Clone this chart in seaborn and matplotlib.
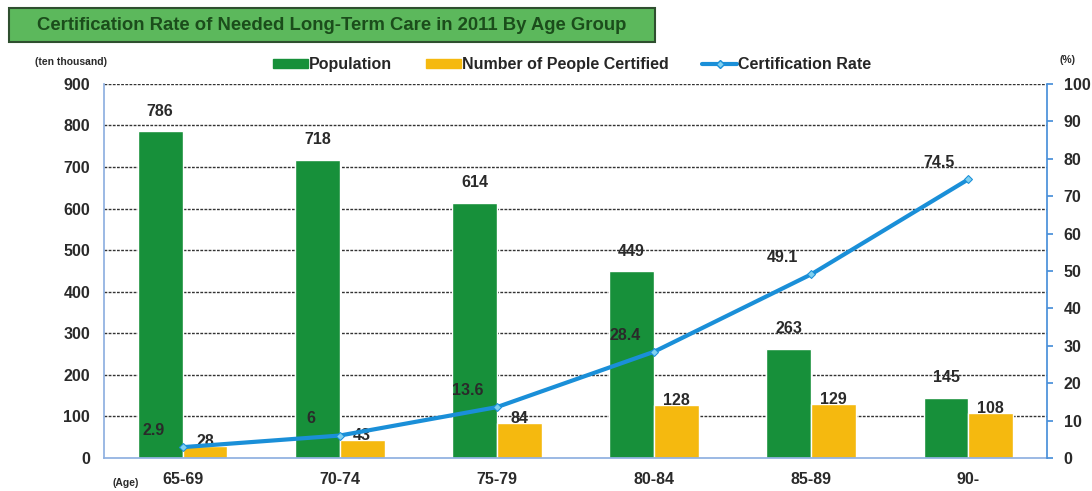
import numpy as np
import pandas as pd
import matplotlib
matplotlib.use("Agg")
import matplotlib.pyplot as plt
from matplotlib.patches import Patch, Rectangle
from matplotlib.lines import Line2D
import seaborn as sns

age_groups = ["65-69", "70-74", "75-79", "80-84", "85-89", "90-"]
population = [786, 718, 614, 449, 263, 145]
certified = [28, 43, 84, 128, 129, 108]
cert_rate = [2.9, 6, 13.6, 28.4, 49.1, 74.5]
rate_labels = ["2.9", "6", "13.6", "28.4", "49.1", "74.5"]

left_ticks = list(range(0, 1000, 100))
right_ticks = list(range(0, 110, 10))

GREEN = "#17903a"
YELLOW = "#f5b90f"
BLUE = "#1a8fd8"
TXT = "#2a2a2a"

sns.set_theme(style="white")
plt.rcParams["font.family"] = ["Liberation Sans", "DejaVu Sans"]
plt.rcParams["font.weight"] = "bold"

df = pd.DataFrame({
    "Age": age_groups * 2,
    "Series": ["Population"] * 6 + ["Number of People Certified"] * 6,
    "Value": population + certified,
})

XL = (-0.5, 5.5)

fig = plt.figure(figsize=(10.92, 4.91), dpi=100)
ax = fig.add_axes([0.0952, 0.0672, 0.8636, 0.762])

sns.barplot(data=df, x="Age", y="Value", hue="Series", order=age_groups,
            hue_order=["Population", "Number of People Certified"],
            palette=[GREEN, YELLOW], width=0.57, saturation=1, ax=ax,
            legend=False, errorbar=None)

ax.set_ylim(0, 900)
ax.set_xlim(*XL)
ax.set_yticks(left_ticks)
ax.set_yticklabels([str(t) for t in left_ticks], fontsize=11.5, fontweight="bold", color=TXT)
ax.set_xlabel("")
ax.set_ylabel("")
ax.set_xticks(range(len(age_groups)))
ax.set_xticklabels(age_groups, fontsize=11.5, fontweight="bold", color=TXT)
ax.tick_params(axis="x", which="major", length=0, pad=10)
ax.set_xticks(np.arange(0.5, 5.0, 1.0), minor=True)
ax.tick_params(axis="x", which="minor", length=4, color="#555555", direction="out")
ax.tick_params(axis="y", length=0, pad=10)

for y in left_ticks[1:]:
    ax.axhline(y, color="#333333", lw=1.0, ls=(0, (2, 1)), zorder=0)

ax.spines["top"].set_visible(False)
ax.spines["left"].set_color("#8fb0e0")
ax.spines["bottom"].set_color("#8fb0e0")
ax.spines["right"].set_visible(False)

conts = ax.containers
ax.bar_label(conts[0], labels=[str(v) for v in population], padding=9,
             fontsize=11.5, fontweight="bold", color=TXT)
ax.bar_label(conts[1], labels=[str(v) for v in certified], padding=-2,
             fontsize=11.5, fontweight="bold", color=TXT)

ax2 = ax.twinx()
rate_df = pd.DataFrame({"Age": age_groups, "Rate": cert_rate})
sns.lineplot(data=rate_df, x="Age", y="Rate", ax=ax2, color=BLUE, lw=3,
             marker="D", markersize=4, markerfacecolor="#7fd0f0",
             markeredgecolor=BLUE, sort=False)
ax2.set_ylim(0, 100)
ax2.set_yticks(right_ticks)
ax2.set_yticklabels([str(t) for t in right_ticks], fontsize=11.5, fontweight="bold", color=TXT)
ax2.set_ylabel("")
ax2.set_xlabel("")
ax2.tick_params(axis="y", length=4, color="#4a90d9", direction="out", pad=8)
ax2.spines["right"].set_color("#4a90d9")
ax2.spines["left"].set_visible(False)
ax2.spines["top"].set_visible(False)
ax2.spines["bottom"].set_visible(False)
ax2.set_xlim(*XL)

for i, (r, lab) in enumerate(zip(cert_rate, rate_labels)):
    ax2.annotate(lab, (i, r), xytext=(-21, 12), textcoords="offset points",
                 ha="center", va="center", fontsize=11.5, fontweight="bold", color=TXT)

fig.patches.append(Rectangle((0.008, 0.915), 0.592, 0.068, transform=fig.transFigure,
                             facecolor="#5cb85c", edgecolor="#2f4f2f", lw=1.5))
fig.text(0.304, 0.949, "Certification Rate of Needed Long-Term Care in 2011 By Age Group",
         ha="center", va="center", fontsize=13.3, fontweight="bold", color="#1b4d1b")

fig.text(0.032, 0.873, "(ten thousand)", fontsize=7.5, fontweight="bold", color=TXT,
         ha="left", va="center")
fig.text(0.978, 0.878, "(%)", fontsize=7.5, fontweight="bold", color=TXT,
         ha="center", va="center")
fig.text(0.115, 0.017, "(Age)", fontsize=7.5, fontweight="bold", color=TXT,
         ha="center", va="center")

handles = [
    Patch(facecolor=GREEN, edgecolor=GREEN),
    Patch(facecolor=YELLOW, edgecolor=YELLOW),
    Line2D([0], [0], color=BLUE, lw=3, marker="D", markersize=4,
           markerfacecolor="#7fd0f0", markeredgecolor=BLUE),
]
fig.legend(handles, ["Population", "Number of People Certified", "Certification Rate"],
           loc="center", bbox_to_anchor=(0.524, 0.868), ncol=3, frameon=False,
           handlelength=2.2, handleheight=0.55, handletextpad=0.05,
           columnspacing=2.1, prop={"weight": "bold", "size": 11.5})

fig.savefig("out.png", dpi=100)
